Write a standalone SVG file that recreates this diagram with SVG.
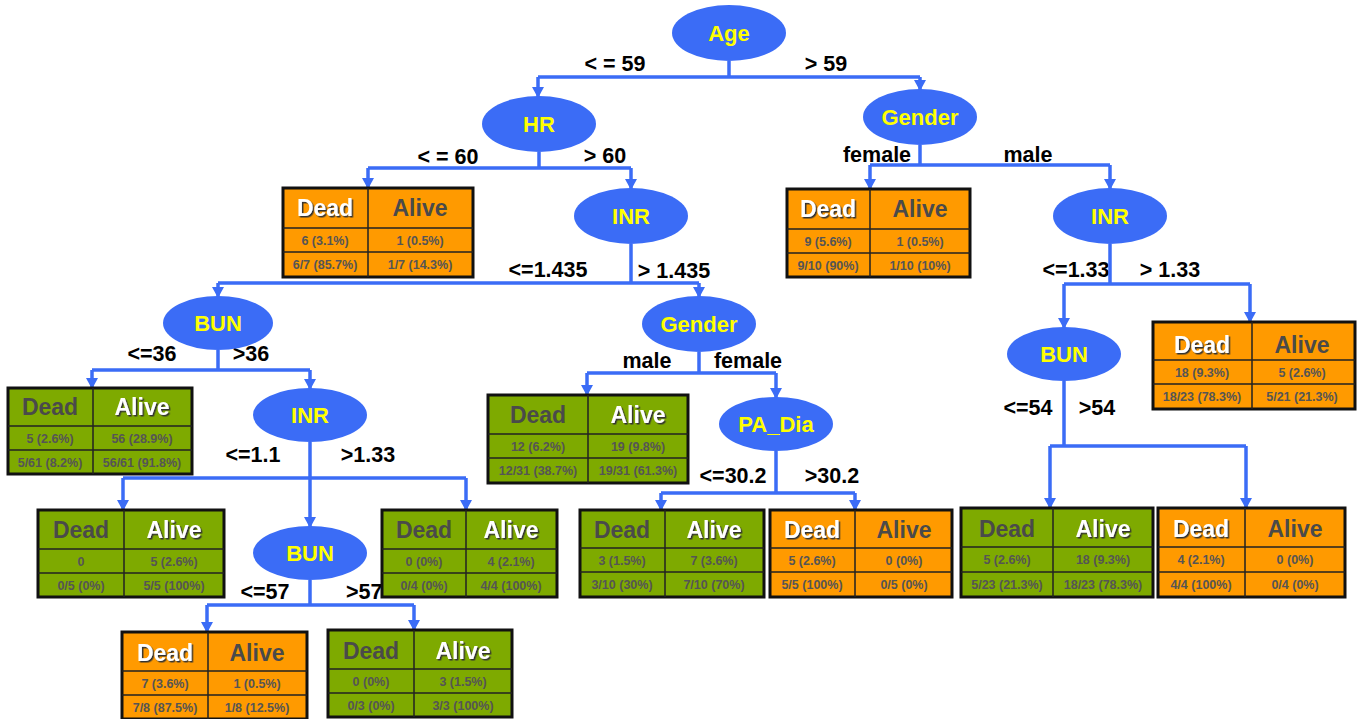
<svg xmlns="http://www.w3.org/2000/svg" width="1359" height="719" viewBox="0 0 1359 719">
<style>
.ell{fill:#3b6cf6}
.nl{font-family:"Liberation Sans",Arial,sans-serif;font-weight:bold;font-size:22px;fill:#ffff00;text-anchor:middle}
.lbl{font-family:"Liberation Sans",Arial,sans-serif;font-weight:bold;font-size:21.5px;fill:#000;text-anchor:middle}
.con{fill:none;stroke:#3b6cf6;stroke-width:3.5}
.arr{fill:none;stroke:#3b6cf6;stroke-width:3.5;marker-end:url(#ah)}
.tb{stroke:#111;stroke-width:3}
.or{fill:#ff9a00}
.gr{fill:#7eaa00}
.ln{stroke:#222;stroke-width:1.5}
.hd{font-family:"Liberation Sans",Arial,sans-serif;font-weight:bold;font-size:23px;text-anchor:middle}
.dk{fill:#4a4a4a}
.wh{fill:#fff;filter:url(#sh)}
.dt{font-family:"Liberation Sans",Arial,sans-serif;font-weight:bold;font-size:12.5px;fill:#555;text-anchor:middle}
</style>
<defs>
<marker id="ah" markerWidth="11" markerHeight="12" refX="10" refY="6" orient="auto" markerUnits="userSpaceOnUse" viewBox="0 0 11 12">
<path d="M0,0 L11,6 L0,12 Z" fill="#3b6cf6"/>
</marker>
<filter id="sh" x="-20%" y="-20%" width="140%" height="140%">
<feDropShadow dx="1.5" dy="1.5" stdDeviation="0.3" flood-color="#333" flood-opacity="1"/>
</filter>
</defs>
<rect width="1359" height="719" fill="#fff"/>

<g id="labels">
<text class="lbl" x="615" y="71">&lt; = 59</text>
<text class="lbl" x="826" y="71">&gt; 59</text>
<text class="lbl" x="448" y="164">&lt; = 60</text>
<text class="lbl" x="605" y="163">&gt; 60</text>
<text class="lbl" x="877" y="162">female</text>
<text class="lbl" x="1028" y="162">male</text>
<text class="lbl" x="548" y="277">&lt;=1.435</text>
<text class="lbl" x="674" y="278">&gt; 1.435</text>
<text class="lbl" x="1076" y="277">&lt;=1.33</text>
<text class="lbl" x="1170" y="277">&gt; 1.33</text>
<text class="lbl" x="152" y="361">&lt;=36</text>
<text class="lbl" x="251" y="361">&gt;36</text>
<text class="lbl" x="647" y="368">male</text>
<text class="lbl" x="748" y="368">female</text>
<text class="lbl" x="1028" y="415">&lt;=54</text>
<text class="lbl" x="1097" y="415">&gt;54</text>
<text class="lbl" x="253" y="462">&lt;=1.1</text>
<text class="lbl" x="368" y="462">&gt;1.33</text>
<text class="lbl" x="733" y="483">&lt;=30.2</text>
<text class="lbl" x="832" y="483">&gt;30.2</text>
<text class="lbl" x="265" y="599">&lt;=57</text>
<text class="lbl" x="346" y="599" style="text-anchor:start">&gt;57</text>
</g>

<g id="connectors">
<path class="con" d="M729 61 V77 M538 77 H920"/>
<path class="arr" d="M538 77 V97"/>
<path class="arr" d="M920 77 V90"/>
<path class="con" d="M539 152 V168 M368 168 H631"/>
<path class="arr" d="M368 168 V188"/>
<path class="arr" d="M631 168 V189"/>
<path class="con" d="M920 145 V165 M870 165 H1110"/>
<path class="arr" d="M870 165 V189"/>
<path class="arr" d="M1110 165 V189"/>
<path class="con" d="M631 244 V283 M218 283 H699"/>
<path class="arr" d="M218 283 V297"/>
<path class="arr" d="M699 283 V297"/>
<path class="con" d="M1110 244 V284 M1064 284 H1250"/>
<path class="arr" d="M1064 284 V328"/>
<path class="arr" d="M1250 284 V322"/>
<path class="con" d="M218 350 V370 M92 370 H310"/>
<path class="arr" d="M92 370 V388"/>
<path class="arr" d="M310 370 V389"/>
<path class="con" d="M699 352 V373 M587 373 H776"/>
<path class="arr" d="M587 373 V395"/>
<path class="arr" d="M776 373 V398"/>
<path class="con" d="M1064 381 V446 M1050 446 H1246"/>
<path class="arr" d="M1050 446 V508"/>
<path class="arr" d="M1246 446 V508"/>
<path class="con" d="M123 478 H466"/>
<path class="arr" d="M310 442 V527"/>
<path class="arr" d="M123 478 V510"/>
<path class="arr" d="M466 478 V510"/>
<path class="con" d="M776 451 V493 M661 493 H855"/>
<path class="arr" d="M661 493 V510"/>
<path class="arr" d="M855 493 V510"/>
<path class="con" d="M310 580 V605 M207 605 H414"/>
<path class="arr" d="M207 605 V632"/>
<path class="arr" d="M414 605 V630"/>
</g>

<g id="n-age"><ellipse class="ell" cx="729" cy="33" rx="57" ry="28"/><text class="nl" x="729" y="41">Age</text></g>
<g id="n-hr"><ellipse class="ell" cx="539" cy="124" rx="57" ry="28"/><text class="nl" x="539" y="132">HR</text></g>
<g id="n-gender1"><ellipse class="ell" cx="920" cy="117" rx="57" ry="28"/><text class="nl" x="920" y="125">Gender</text></g>
<g id="n-inr1"><ellipse class="ell" cx="631" cy="216" rx="57" ry="28"/><text class="nl" x="631" y="224">INR</text></g>
<g id="n-inr2"><ellipse class="ell" cx="1110" cy="216" rx="57" ry="28"/><text class="nl" x="1110" y="224">INR</text></g>
<g id="n-bun1"><ellipse class="ell" cx="218" cy="323" rx="55" ry="27"/><text class="nl" x="218" y="331">BUN</text></g>
<g id="n-gender2"><ellipse class="ell" cx="699" cy="324" rx="57" ry="28"/><text class="nl" x="699" y="332">Gender</text></g>
<g id="n-bun2"><ellipse class="ell" cx="1064" cy="354" rx="57" ry="27"/><text class="nl" x="1064" y="362">BUN</text></g>
<g id="n-inr3"><ellipse class="ell" cx="310" cy="415" rx="57" ry="27"/><text class="nl" x="310" y="423">INR</text></g>
<g id="n-padia"><ellipse class="ell" cx="776" cy="424" rx="57" ry="27"/><text class="nl" x="776" y="432">PA_Dia</text></g>
<g id="n-bun3"><ellipse class="ell" cx="310" cy="553" rx="57" ry="27"/><text class="nl" x="310" y="561">BUN</text></g>

<g id="t-hr-le60">
<rect class="tb or" x="283" y="188" width="190" height="89"/>
<path class="ln" d="M368 188 V277 M283 228 H473 M283 252 H473"/>
<text class="hd wh" x="325" y="216">Dead</text><text class="hd dk" x="420" y="216">Alive</text>
<text class="dt" x="325" y="245">6 (3.1%)</text><text class="dt" x="420" y="245">1 (0.5%)</text>
<text class="dt" x="325" y="269">6/7 (85.7%)</text><text class="dt" x="420" y="269">1/7 (14.3%)</text>
</g>
<g id="t-female">
<rect class="tb or" x="787" y="189" width="183" height="88"/>
<path class="ln" d="M870 189 V277 M787 229 H970 M787 253 H970"/>
<text class="hd wh" x="828" y="217">Dead</text><text class="hd dk" x="920" y="217">Alive</text>
<text class="dt" x="828" y="246">9 (5.6%)</text><text class="dt" x="920" y="246">1 (0.5%)</text>
<text class="dt" x="828" y="270">9/10 (90%)</text><text class="dt" x="920" y="270">1/10 (10%)</text>
</g>
<g id="t-bun-le36">
<rect class="tb gr" x="8" y="388" width="184" height="86"/>
<path class="ln" d="M93 388 V474 M8 426 H192 M8 450 H192"/>
<text class="hd dk" x="50" y="415">Dead</text><text class="hd wh" x="142" y="415">Alive</text>
<text class="dt" x="50" y="443">5 (2.6%)</text><text class="dt" x="142" y="443">56 (28.9%)</text>
<text class="dt" x="50" y="467">5/61 (8.2%)</text><text class="dt" x="142" y="467">56/61 (91.8%)</text>
</g>
<g id="t-inr-le11">
<rect class="tb gr" x="38" y="510" width="186" height="87"/>
<path class="ln" d="M124 510 V597 M38 549 H224 M38 573 H224"/>
<text class="hd dk" x="81" y="538">Dead</text><text class="hd wh" x="174" y="538">Alive</text>
<text class="dt" x="81" y="566">0</text><text class="dt" x="174" y="566">5 (2.6%)</text>
<text class="dt" x="81" y="590">0/5 (0%)</text><text class="dt" x="174" y="590">5/5 (100%)</text>
</g>
<g id="t-inr-gt133">
<rect class="tb gr" x="382" y="510" width="175" height="87"/>
<path class="ln" d="M466 510 V597 M382 549 H557 M382 573 H557"/>
<text class="hd dk" x="424" y="538">Dead</text><text class="hd wh" x="511" y="538">Alive</text>
<text class="dt" x="424" y="566">0 (0%)</text><text class="dt" x="511" y="566">4 (2.1%)</text>
<text class="dt" x="424" y="590">0/4 (0%)</text><text class="dt" x="511" y="590">4/4 (100%)</text>
</g>
<g id="t-bun-le57">
<rect class="tb or" x="122" y="632" width="185" height="87"/>
<path class="ln" d="M208 632 V719 M122 671 H307 M122 695 H307"/>
<text class="hd wh" x="165" y="661">Dead</text><text class="hd dk" x="257" y="661">Alive</text>
<text class="dt" x="165" y="688">7 (3.6%)</text><text class="dt" x="257" y="688">1 (0.5%)</text>
<text class="dt" x="165" y="712">7/8 (87.5%)</text><text class="dt" x="257" y="712">1/8 (12.5%)</text>
</g>
<g id="t-bun-gt57">
<rect class="tb gr" x="328" y="630" width="184" height="87"/>
<path class="ln" d="M414 630 V717 M328 669 H512 M328 693 H512"/>
<text class="hd dk" x="371" y="659">Dead</text><text class="hd wh" x="463" y="659">Alive</text>
<text class="dt" x="371" y="686">0 (0%)</text><text class="dt" x="463" y="686">3 (1.5%)</text>
<text class="dt" x="371" y="710">0/3 (0%)</text><text class="dt" x="463" y="710">3/3 (100%)</text>
</g>
<g id="t-male">
<rect class="tb gr" x="488" y="395" width="200" height="88"/>
<path class="ln" d="M588 395 V483 M488 434 H688 M488 458 H688"/>
<text class="hd dk" x="538" y="423">Dead</text><text class="hd wh" x="638" y="423">Alive</text>
<text class="dt" x="538" y="451">12 (6.2%)</text><text class="dt" x="638" y="451">19 (9.8%)</text>
<text class="dt" x="538" y="475">12/31 (38.7%)</text><text class="dt" x="638" y="475">19/31 (61.3%)</text>
</g>
<g id="t-padia-le302">
<rect class="tb gr" x="580" y="510" width="184" height="87"/>
<path class="ln" d="M665 510 V597 M580 548 H764 M580 572 H764"/>
<text class="hd dk" x="622" y="538">Dead</text><text class="hd wh" x="714" y="538">Alive</text>
<text class="dt" x="622" y="565">3 (1.5%)</text><text class="dt" x="714" y="565">7 (3.6%)</text>
<text class="dt" x="622" y="589">3/10 (30%)</text><text class="dt" x="714" y="589">7/10 (70%)</text>
</g>
<g id="t-padia-gt302">
<rect class="tb or" x="770" y="510" width="182" height="87"/>
<path class="ln" d="M855 510 V597 M770 548 H952 M770 572 H952"/>
<text class="hd wh" x="812" y="538">Dead</text><text class="hd dk" x="904" y="538">Alive</text>
<text class="dt" x="812" y="565">5 (2.6%)</text><text class="dt" x="904" y="565">0 (0%)</text>
<text class="dt" x="812" y="589">5/5 (100%)</text><text class="dt" x="904" y="589">0/5 (0%)</text>
</g>
<g id="t-inr-gt133r">
<rect class="tb or" x="1153" y="322" width="202" height="87"/>
<path class="ln" d="M1252 322 V409 M1153 360 H1355 M1153 384 H1355"/>
<text class="hd wh" x="1202" y="353">Dead</text><text class="hd dk" x="1302" y="353">Alive</text>
<text class="dt" x="1202" y="377">18 (9.3%)</text><text class="dt" x="1302" y="377">5 (2.6%)</text>
<text class="dt" x="1202" y="401">18/23 (78.3%)</text><text class="dt" x="1302" y="401">5/21 (21.3%)</text>
</g>
<g id="t-bun-le54">
<rect class="tb gr" x="961" y="508" width="192" height="89"/>
<path class="ln" d="M1053 508 V597 M961 547 H1153 M961 572 H1153"/>
<text class="hd dk" x="1007" y="537">Dead</text><text class="hd wh" x="1103" y="537">Alive</text>
<text class="dt" x="1007" y="564">5 (2.6%)</text><text class="dt" x="1103" y="564">18 (9.3%)</text>
<text class="dt" x="1007" y="589">5/23 (21.3%)</text><text class="dt" x="1103" y="589">18/23 (78.3%)</text>
</g>
<g id="t-bun-gt54">
<rect class="tb or" x="1158" y="508" width="187" height="89"/>
<path class="ln" d="M1245 508 V597 M1158 547 H1345 M1158 572 H1345"/>
<text class="hd wh" x="1201" y="537">Dead</text><text class="hd dk" x="1295" y="537">Alive</text>
<text class="dt" x="1201" y="564">4 (2.1%)</text><text class="dt" x="1295" y="564">0 (0%)</text>
<text class="dt" x="1201" y="589">4/4 (100%)</text><text class="dt" x="1295" y="589">0/4 (0%)</text>
</g>
</svg>
